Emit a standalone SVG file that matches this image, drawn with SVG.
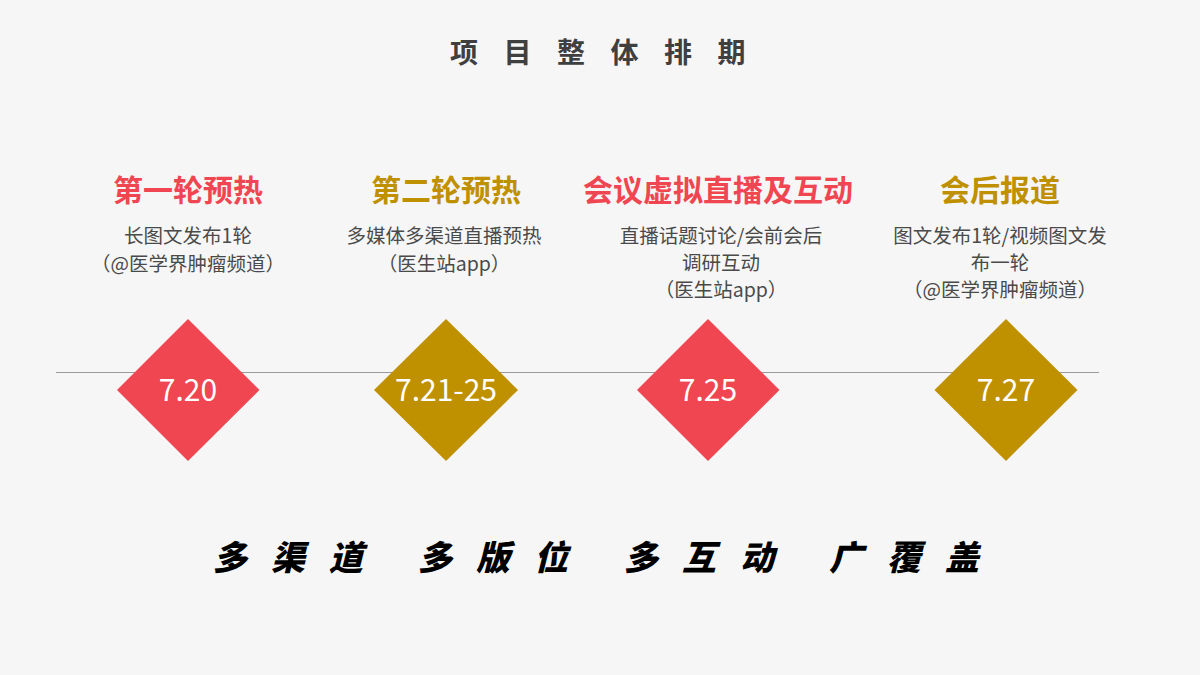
<svg xmlns="http://www.w3.org/2000/svg" width="1200" height="675" viewBox="0 0 1200 675">
<style>
.cjk{font-family:"Noto Sans CJK SC","Noto Sans",sans-serif}
.title{font-size:28px;font-weight:700;fill:#3f3f3f}
.head{font-size:30px;font-weight:700;text-anchor:middle}
.red{fill:#f04651}
.gold{fill:#bf9000}
.desc{font-size:19.5px;fill:#4a4a4a;text-anchor:middle}
.date{font-size:30px;fill:#ffffff;text-anchor:middle}
.slogan{font-size:34px;font-weight:900;font-style:italic;fill:#000000}
</style>
<rect x="0" y="0" width="1200" height="675" fill="#f6f6f6"/>
<text class="cjk title" y="63" x="450 503.5 557 610.5 664 717.5">项目整体排期</text>
<g id="connectors">
<line x1="56" y1="372.5" x2="1099" y2="372.5" stroke="#9a9a9a" stroke-width="1.2"/>
</g>
<g id="node-1">
<text class="cjk head red" x="188" y="201">第一轮预热</text>
<text class="cjk desc" x="188" y="243">长图文发布1轮</text>
<text class="cjk desc" x="188" y="271">（@医学界肿瘤频道）</text>
<polygon class="red" points="188,319 259.5,390 188,461 117,390"/>
<text class="cjk date" x="188" y="401">7.20</text>
</g>
<g id="node-2">
<text class="cjk head gold" x="446" y="201">第二轮预热</text>
<text class="cjk desc" x="444" y="243">多媒体多渠道直播预热</text>
<text class="cjk desc" x="444" y="271">（医生站app）</text>
<polygon class="gold" points="446,319 518,390 446,461 374,390"/>
<text class="cjk date" x="446" y="401">7.21-25</text>
</g>
<g id="node-3">
<text class="cjk head red" x="718" y="201">会议虚拟直播及互动</text>
<text class="cjk desc" x="721" y="243">直播话题讨论/会前会后</text>
<text class="cjk desc" x="721" y="270">调研互动</text>
<text class="cjk desc" x="721" y="297">（医生站app）</text>
<polygon class="red" points="708,319 779.5,390 708,461 637,390"/>
<text class="cjk date" x="708" y="401">7.25</text>
</g>
<g id="node-4">
<text class="cjk head gold" x="1000" y="201">会后报道</text>
<text class="cjk desc" x="1000" y="243">图文发布1轮/视频图文发</text>
<text class="cjk desc" x="1000" y="270">布一轮</text>
<text class="cjk desc" x="1000" y="297">（@医学界肿瘤频道）</text>
<polygon class="gold" points="1006,319 1077.5,390 1006,461 934.5,390"/>
<text class="cjk date" x="1006" y="401">7.27</text>
</g>
<text class="cjk slogan" y="570" x="213 271 329 418 476 534 624 682 740 829 887 945">多渠道多版位多互动广覆盖</text>
</svg>
